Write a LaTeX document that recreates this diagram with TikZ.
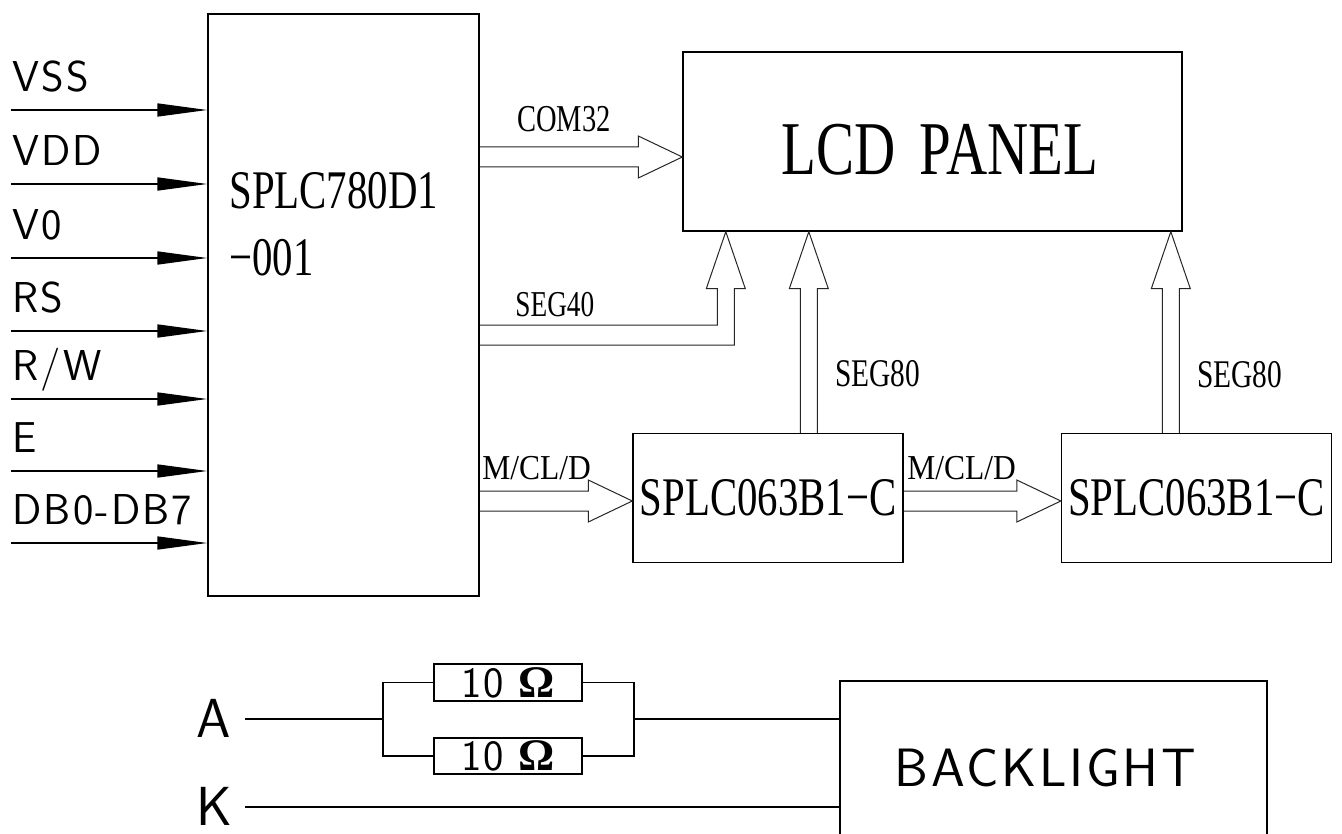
\documentclass[tikz,border=0pt]{standalone}
\usepackage{fontspec}
\usetikzlibrary{arrows.meta,calc}
\newfontfamily\cadserif[FakeStretch=0.75]{Liberation Serif}
\newfontfamily\cadserifw[FakeStretch=0.9]{Liberation Serif}
\newfontfamily\cadsans[LetterSpace=5]{Latin Modern Sans}
\newfontfamily\ohmfont{Liberation Serif}

\tikzset{
  blk/.style={draw,line width=0.7pt,rectangle,inner sep=0pt},
  bus/.style={draw=black!85,line width=0.5pt,line join=miter},
  wire/.style={line width=0.6pt},
  pin/.style={line width=0.8pt,-{Triangle[length=25pt,width=6.5pt]}},
  sig/.style={font=\cadsans\fontsize{21.6}{24}\selectfont,inner sep=0pt,anchor=base west},
  buslbl/.style={font=\cadserif\fontsize{19}{22}\selectfont,inner sep=0pt,anchor=base west},
  chiplbl/.style={font=\cadserif\fontsize{27.2}{33}\selectfont,inner sep=0pt},
}

% horizontal bus arrow: start, target
\newcommand{\hbus}[2]{\draw[bus] ($(#1)+(0,-10)$) -- ($(#2|-#1)+(-44,-10)$) -- ($(#2|-#1)+(-44,-21)$) -- (#2|-#1) -- ($(#2|-#1)+(-44,21)$) -- ($(#2|-#1)+(-44,10)$) -- ($(#1)+(0,10)$);}
% vertical bus arrow: base, tip
\newcommand{\vbus}[2]{\draw[bus] ($(#2|-#1)+(-8.5,0)$) -- ($(#2)+(-8.5,57)$) -- ($(#2)+(-19.5,57)$) -- (#2) -- ($(#2)+(19.5,57)$) -- ($(#2)+(8.5,57)$) -- ($(#2|-#1)+(8.5,0)$);}

\begin{document}
\begin{tikzpicture}[x=0.5pt,y=-0.5pt]
\clip (0,0) rectangle (1342,834);
\fill[white] (0,0) rectangle (1342,834);

\node[blk,minimum width=135.5pt,minimum height=291pt] (main) at (343.5,305) {};
\node[chiplbl,anchor=base west] (chipa) at (229,209) {SPLC780D1};
\node[chiplbl,anchor=base west] (chipb) at (229,275) {−001};

\node[blk,minimum width=249.5pt,minimum height=89.5pt] (lcd) at (932.5,141.5) {};
\node[font=\cadserif\fontsize{38}{44}\selectfont,inner sep=0pt,anchor=base] (lcdlbl) at (940,175) {LCD\hspace{12pt}PANEL};

\node[blk,chiplbl,minimum width=135pt,minimum height=64.5pt] (drva) at (768,498) {SPLC063B1−C};
\node[blk,chiplbl,minimum width=135pt,minimum height=64.5pt] (drvb) at (1196.5,498) {SPLC063B1−C};

% inputs
\foreach \lbl/\y in {VSS/110,VDD/184,V0/258,RS/331,{R/W}/399,E/471,DB0-DB7/543}{
  \coordinate (in\y) at (11,\y);
  \draw[pin] (in\y) -- (main.west |- in\y);
  \node[sig] at (12,\y-18.5) {\lbl};
}

% buses
\coordinate (c32) at (main.east |- 0,157);
\hbus{c32}{lcd.west}
\node[buslbl] (com) at (517,132) {COM32};

\coordinate (s40) at (main.east |- 0,335);
\coordinate (t40) at ($(lcd.south west)+(43.5,0)$);
\draw[bus] ($(s40)+(0,-10)$) -- ($(t40|-s40)+(-8.5,-10)$) -- ($(t40)+(-8.5,57)$) -- ($(t40)+(-19.5,57)$) -- (t40)
  -- ($(t40)+(19.5,57)$) -- ($(t40)+(8.5,57)$) -- ($(t40|-s40)+(8.5,10)$) -- ($(s40)+(0,10)$);
\node[buslbl,font=\cadserif\fontsize{18.2}{22}\selectfont] (seg) at (515,316) {SEG40};

\coordinate (t80a) at ($(lcd.south west)+(126.5,0)$);
\coordinate (t80b) at ($(lcd.south west)+(488.5,0)$);
\vbus{drva.north}{t80a}
\vbus{drvb.north}{t80b}
\node[buslbl,font=\cadserif\fontsize{19.6}{22}\selectfont] (sega) at (835,386) {SEG80};
\node[buslbl,font=\cadserif\fontsize{19.6}{22}\selectfont] (segb) at (1197,387) {SEG80};

\coordinate (mc1) at (main.east |- 0,501);
\coordinate (mc2) at (drva.east |- 0,501);
\hbus{mc1}{drva.west}
\hbus{mc2}{drvb.west}
\node[buslbl,font=\cadserifw\fontsize{17.5}{20}\selectfont] (mcla) at (482,479) {M/CL/D};
\node[buslbl,font=\cadserifw\fontsize{17.5}{20}\selectfont] (mclb) at (907,479) {M/CL/D};

% backlight
\node[draw,line width=0.6pt,minimum width=213.5pt,minimum height=109pt] (bl) at (1053.5,790) {};
\node[font=\cadsans\fontsize{27}{30}\selectfont,inner sep=0pt,anchor=base] (bllbl) at (1045.5,786) {BACKLIGHT};

\node[draw,line width=0.6pt,inner sep=0pt,minimum width=74pt,minimum height=18.5pt] (ra) at (508,682.5)
  {{\cadsans\fontsize{21.6}{24}\selectfont 10}\hspace{7pt}{\ohmfont\bfseries\fontsize{22.6}{24}\selectfont Ω}};
\node[draw,line width=0.6pt,inner sep=0pt,minimum width=74pt,minimum height=18pt] (rb) at (508,756)
  {{\cadsans\fontsize{21.6}{24}\selectfont 10}\hspace{7pt}{\ohmfont\bfseries\fontsize{22.6}{24}\selectfont Ω}};

\node[sig,font=\cadsans\fontsize{27.5}{30}\selectfont] (pa) at (196,737) {A};
\node[sig,font=\cadsans\fontsize{27.5}{30}\selectfont] (pk) at (196,825) {K};
\coordinate (aend) at (245,719);
\coordinate (kend) at (245,807);
\coordinate (jl) at (383,719);
\coordinate (jr) at (634,719);
\draw[wire] (aend) -- (jl);
\draw[wire] (ra.west) -| (jl) |- (rb.west);
\draw[wire] (ra.east) -| (jr) |- (rb.east);
\draw[wire] (jr) -- (jr -| bl.west);
\draw[wire] (kend) -- (kend -| bl.west);

\end{tikzpicture}
\end{document}
